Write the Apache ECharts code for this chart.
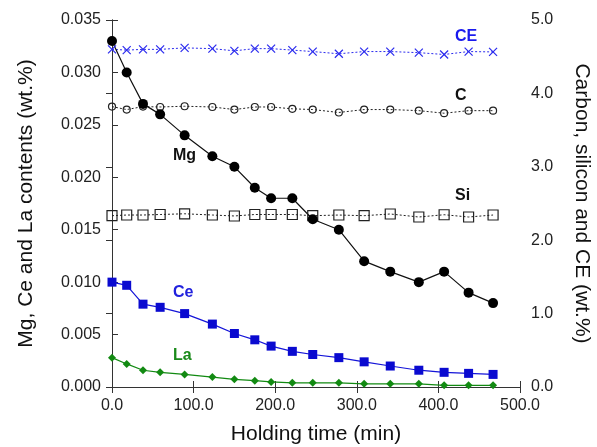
<!DOCTYPE html>
<html><head><meta charset="utf-8">
<script src="https://cdn.jsdelivr.net/npm/echarts@6/dist/echarts.min.js"></script>
<style>html,body{margin:0;padding:0;background:#fff}#c{width:597px;height:447px}</style>
</head><body><div id="c"></div>
<script>
const times = [0, 18, 38, 59, 89, 123, 150, 175, 195, 221, 246, 278, 309, 341, 376, 407, 437, 467];
const mg = [0.033, 0.030, 0.027, 0.026, 0.024, 0.022, 0.021, 0.019, 0.018, 0.018, 0.016, 0.015, 0.012, 0.011, 0.010, 0.011, 0.009, 0.008];
const ce = [0.0100, 0.0097, 0.0079, 0.0076, 0.0070, 0.0060, 0.0051, 0.0045, 0.0039, 0.0034, 0.0031, 0.0028, 0.0024, 0.0020, 0.0016, 0.0014, 0.0013, 0.0012];
const la = [0.0028, 0.0022, 0.0016, 0.0014, 0.0012, 0.00095, 0.00073, 0.0006, 0.00048, 0.0004, 0.0004, 0.0004, 0.0003, 0.0003, 0.0003, 0.00016, 0.00016, 0.00016];
const ceq = [4.60, 4.59, 4.60, 4.60, 4.62, 4.61, 4.58, 4.61, 4.61, 4.59, 4.57, 4.54, 4.57, 4.57, 4.555, 4.53, 4.57, 4.565];
const carbon = [3.82, 3.78, 3.82, 3.815, 3.825, 3.815, 3.78, 3.815, 3.815, 3.79, 3.78, 3.74, 3.78, 3.78, 3.765, 3.73, 3.765, 3.765];
const silicon = [2.334, 2.343, 2.343, 2.35, 2.36, 2.343, 2.33, 2.35, 2.35, 2.35, 2.334, 2.343, 2.334, 2.357, 2.316, 2.347, 2.316, 2.343];
const xTicks = { min: 0, max: 500, interval: 100 };
const yLeftTicks = { min: 0, max: 0.035, interval: 0.005 };
const yRightTicks = { min: 0, max: 5, interval: 1 };

const pair = arr => times.map((t, i) => [t, arr[i]]);
const FONT = 'Liberation Sans, Arial, sans-serif';
const axisCol = '#333';
const chart = echarts.init(document.getElementById('c'));
const tickStyle = { inside: true, length: 6, lineStyle: { color: axisCol } };
chart.setOption({
  animation: false,
  grid: { left: 112, right: 77, top: 20, bottom: 60, containLabel: false, outerBoundsMode: 'none' },
  xAxis: [
    { type: 'value', min: xTicks.min, max: xTicks.max, interval: xTicks.interval, position: 'bottom',
      axisLine: { lineStyle: { color: axisCol } }, axisTick: tickStyle, splitLine: { show: false },
      axisLabel: { formatter: v => v.toFixed(1), color: '#222', fontSize: 16, fontFamily: FONT, margin: 11 },
      name: 'Holding time (min)', nameLocation: 'middle', nameGap: 37,
      nameTextStyle: { fontSize: 21, color: '#111', fontFamily: FONT } },
    { type: 'value', min: xTicks.min, max: xTicks.max, interval: xTicks.interval, position: 'top',
      axisLine: { lineStyle: { color: axisCol } }, axisTick: tickStyle, splitLine: { show: false },
      axisLabel: { show: false } }
  ],
  yAxis: [
    { type: 'value', min: yLeftTicks.min, max: yLeftTicks.max, interval: yLeftTicks.interval, position: 'left',
      axisLine: { show: true, lineStyle: { color: axisCol } }, axisTick: tickStyle, splitLine: { show: false },
      axisLabel: { formatter: v => v.toFixed(3), color: '#222', fontSize: 16, fontFamily: FONT, margin: 11 },
      name: 'Mg, Ce and La contents (wt.%)', nameLocation: 'middle', nameGap: 75,
      nameTextStyle: { fontSize: 21, color: '#111', fontFamily: FONT } },
    { type: 'value', min: yRightTicks.min, max: yRightTicks.max, interval: yRightTicks.interval, position: 'right',
      axisLine: { show: true, lineStyle: { color: axisCol } }, axisTick: tickStyle, splitLine: { show: false },
      axisLabel: { formatter: v => v.toFixed(1), color: '#222', fontSize: 16, fontFamily: FONT, margin: 11 },
      name: 'Carbon, silicon and CE (wt.%)', nameLocation: 'middle', nameGap: 51, nameRotate: -90,
      nameTextStyle: { fontSize: 21, color: '#111', fontFamily: FONT } }
  ],
  series: [
    { name: 'CE', type: 'line', yAxisIndex: 1, data: pair(ceq),
      symbol: 'path://M0,0L10,10M10,0L0,10', symbolSize: 8,
      lineStyle: { color: '#2a2aee', width: 1, type: [2, 2] },
      itemStyle: { color: 'rgba(0,0,0,0)', borderColor: '#2a2aee', borderWidth: 1.2 } },
    { name: 'C', type: 'line', yAxisIndex: 1, data: pair(carbon),
      symbol: 'circle', symbolSize: 7,
      lineStyle: { color: '#222', width: 1, type: [2, 2] },
      itemStyle: { color: 'rgba(0,0,0,0)', borderColor: '#222', borderWidth: 1.2 } },
    { name: 'Si', type: 'line', yAxisIndex: 1, data: pair(silicon),
      symbol: 'rect', symbolSize: 10,
      lineStyle: { color: '#222', width: 1, type: [2, 2] },
      itemStyle: { color: 'rgba(0,0,0,0)', borderColor: '#222', borderWidth: 1.2 } },
    { name: 'La', type: 'line', yAxisIndex: 0, data: pair(la),
      symbol: 'diamond', symbolSize: 8,
      lineStyle: { color: '#128a12', width: 1.2 },
      itemStyle: { color: '#128a12' } },
    { name: 'Ce', type: 'line', yAxisIndex: 0, data: pair(ce),
      symbol: 'rect', symbolSize: 9,
      lineStyle: { color: '#1414d8', width: 1.2 },
      itemStyle: { color: '#0a0ad0' } },
    { name: 'Mg', type: 'line', yAxisIndex: 0, data: pair(mg),
      symbol: 'circle', symbolSize: 10,
      lineStyle: { color: '#111', width: 1.2 },
      itemStyle: { color: '#000' } }
  ],
  graphic: [
    { type: 'text', left: 455, top: 29, style: { text: 'CE', fill: '#1a1aee', font: 'bold 16px ' + FONT } },
    { type: 'text', left: 455, top: 88, style: { text: 'C', fill: '#111', font: 'bold 16px ' + FONT } },
    { type: 'text', left: 455, top: 188, style: { text: 'Si', fill: '#111', font: 'bold 16px ' + FONT } },
    { type: 'text', left: 173, top: 148, style: { text: 'Mg', fill: '#111', font: 'bold 16px ' + FONT } },
    { type: 'text', left: 173, top: 285, style: { text: 'Ce', fill: '#2222dd', font: 'bold 16px ' + FONT } },
    { type: 'text', left: 173, top: 348, style: { text: 'La', fill: '#1a8a1a', font: 'bold 16px ' + FONT } }
  ]
});
</script></body></html>
